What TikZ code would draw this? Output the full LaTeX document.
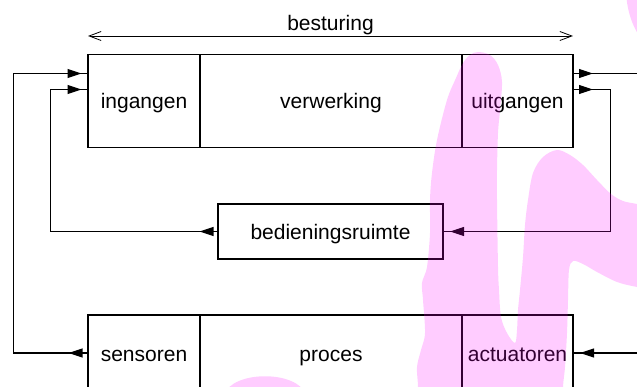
\documentclass[tikz,border=0pt]{standalone}
\usepackage{fontspec}
\setmainfont{Liberation Sans}
\usetikzlibrary{arrows.meta,calc}
\definecolor{brushpink}{RGB}{255,0,255}
\begin{document}
\begin{tikzpicture}[x=1pt,y=-1pt,
  every node/.style={font=\fontsize{21}{25}\selectfont},
  cell/.style={draw, line width=1.1pt, rectangle, inner sep=0pt, outer sep=0pt,
    text height=16pt, text depth=0pt},
  wire/.style={line width=1.1pt},
  head/.style={line width=1.1pt, -{Triangle[length=14pt,width=9pt]}},
  dimline/.style={line width=0.8pt,
    {Straight Barb[length=12pt,width=9pt]}-{Straight Barb[length=12pt,width=9pt]}},
  brush/.style={fill=brushpink, fill opacity=0.2}]
\useasboundingbox (0,0) rectangle (637,387);
\clip (0,0) rectangle (637,387);

% control unit: inputs, processing, outputs
\node[cell, minimum width=112, minimum height=93] (in)   at (144,101)   {ingangen};
\node[cell, minimum width=262, minimum height=93] (verw) at (331,101)   {verwerking};
\node[cell, minimum width=111, minimum height=93] (uit)  at (517.5,101) {uitgangen};

% operator panel
\node[cell, minimum width=225, minimum height=55] (beds) at (330.5,231.5) {bedieningsruimte};

% plant: sensors, process, actuators
\node[cell, minimum width=112, minimum height=76] (sens) at (144,353)   {sensoren};
\node[cell, minimum width=262, minimum height=76] (proc) at (331,353)   {proces};
\node[cell, minimum width=111, minimum height=76] (act)  at (517.5,353) {actuatoren};

% span of the control unit
\coordinate (bA) at ($(in.north west)+(0,-18.5)$);
\coordinate (bB) at ($(uit.north east)+(0,-18.5)$);
\draw[dimline] (bA) -- (bB);
\node[anchor=base] (bst) at ($(bA)!0.5!(bB)+(0,-5)$) {besturing};

% connection points on the control unit
\coordinate (inA)  at ($(in.north west)+(0,19)$);
\coordinate (inB)  at ($(in.north west)+(0,35)$);
\coordinate (outA) at ($(uit.north east)+(0,19)$);
\coordinate (outB) at ($(uit.north east)+(0,35)$);
% vertical runs of the wiring
\coordinate (L1) at (13.3,0);
\coordinate (L2) at (50.7,0);
\coordinate (R2) at (610.7,0);
\coordinate (R1) at (645,0);

% sensors -> inputs
\draw[wire] (sens.west) -- (sens.west -| L1) -- (inA -| L1) -- (inA);
\draw[head] ($(sens.west)+(-5,0)$) -- ($(sens.west)+(-19.5,0)$);
\draw[head] ($(inA)+(-20,0)$) -- ($(inA)+(-6.5,0)$);

% operator panel -> inputs
\draw[wire] (beds.west) -- (beds.west -| L2) -- (inB -| L2) -- (inB);
\draw[head] ($(beds.west)+(-5,0)$) -- ($(beds.west)+(-18.5,0)$);
\draw[head] ($(inB)+(-20,0)$) -- ($(inB)+(-6.5,0)$);

% outputs -> actuators (leaving to the right)
\draw[wire] (outA) -- (outA -| R1);
\draw[head] ($(outA)+(6.5,0)$) -- ($(outA)+(20,0)$);
\draw[wire] (act.east -| R1) -- (act.east);
\draw[head] ($(act.east)+(20,0)$) -- ($(act.east)+(7,0)$);

% outputs -> operator panel
\draw[wire] (outB) -- (outB -| R2) -- (beds.east -| R2) -- (beds.east);
\draw[head] ($(outB)+(6.5,0)$) -- ($(outB)+(20,0)$);
\draw[head] ($(beds.east)+(20,0)$) -- ($(beds.east)+(7,0)$);

% translucent magenta brush strokes
\fill[brush] plot[smooth cycle, tension=0.55] coordinates {
  (478,52) (490,55) (498,65) (502,82) (500,110) (498,133) (497,170) (497,200)
  (498,267) (499,290) (501,317) (507,333) (515,343) (517,330) (518,310) (520,290)
  (523,257) (525,225) (528,200) (533,173) (543,157) (557,150) (570,155) (583,165)
  (597,180) (611,194) (623,201) (637,204) (665,210) (665,292) (637,287) (617,282)
  (597,272) (583,264) (573,261) (569,270) (568,300) (567,333) (565,367) (563,387)
  (562,420) (418,420) (418,387) (417,367) (421,350) (425,333) (423,300) (422,283)
  (427,267) (430,233) (430,200) (432,173) (437,140) (447,100) (456,78) (463,63)
  (470,55)};
\fill[brush] (626,-10) .. controls (626.5,8) and (631,25) .. (642,40)
  -- (660,40) -- (660,-10) -- cycle;
\fill[brush] (224,395) .. controls (232,370) and (298,370) .. (306,395) -- cycle;
\end{tikzpicture}
\end{document}
